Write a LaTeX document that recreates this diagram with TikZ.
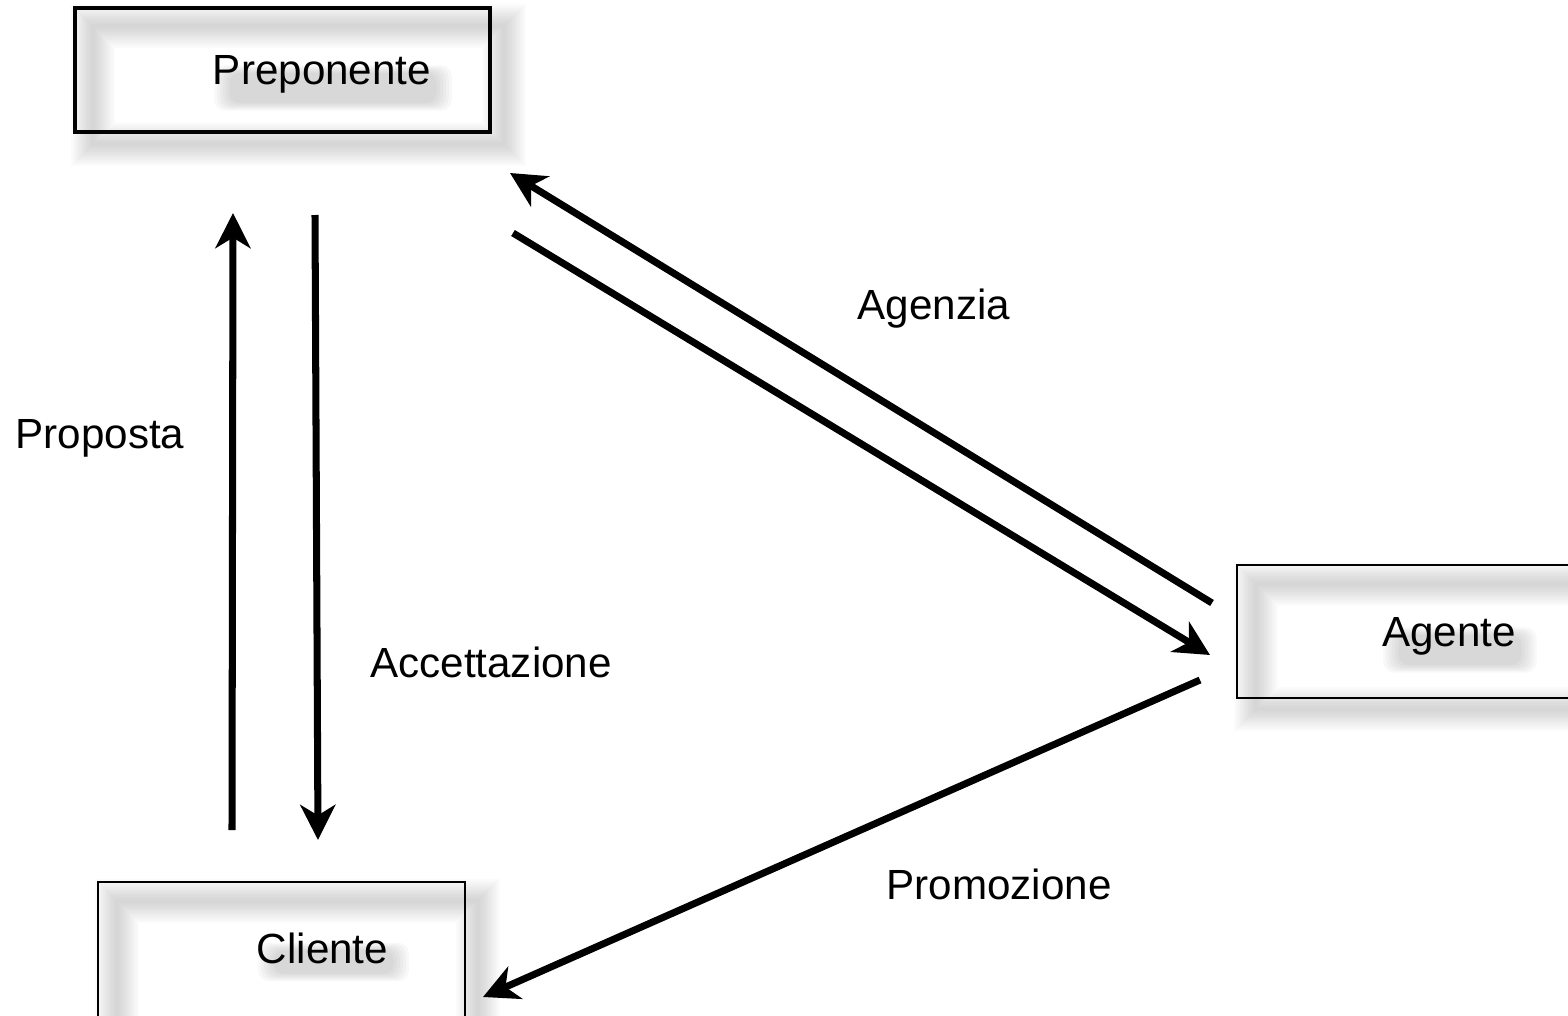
\documentclass[tikz,border=0pt]{standalone}
\usepackage{fontspec}
\setmainfont{Liberation Sans}
\usetikzlibrary{arrows.meta, positioning, calc, backgrounds}

\tikzset{
  box/.style={draw, line width=0.7pt, inner sep=0pt},
  lbl/.style={font=\fontsize{12}{14}\selectfont, inner sep=0pt},
  flow/.style={-{Stealth[length=10pt,width=10pt,inset=3pt]}, line width=2pt},
}

% text with a soft grey shadow
\newcommand{\glowlabel}[3]{%
  \node[lbl] (#1) at (#2) {#3};
  \begin{scope}[on background layer]
    \foreach \s in {-0.10,-0.07,-0.04,-0.01,0.02,0.05}
      \fill[rounded corners=3pt, opacity=0.028]
        ($(#1.south west)+(0.12+\s,-0.12+0.5*\s)$) rectangle ($(#1.north east)+(0.10-\s,-0.16-0.5*\s)$);
  \end{scope}}

% blurred shadow of a box outline
\newcommand{\boxshade}[1]{%
  \begin{scope}[on background layer]
    \foreach \w in {0.04,0.08,...,0.48}
      \draw[line width=\w cm, opacity=0.016]
        ($(#1.north west)+(0.2,-0.2)$) rectangle ($(#1.south east)+(0.12,-0.1)$);
  \end{scope}}

\begin{document}
\begin{tikzpicture}
    \useasboundingbox (0,0) rectangle (15.68,10.15);

    \node[box, line width=1.3pt, minimum width=4.15cm, minimum height=1.24cm] (pre) at (2.825,9.45) {};
    \node[box, minimum width=3.63cm, minimum height=1.33cm] (age) at (14.185,3.835) {};
    \node[box, minimum width=3.67cm, minimum height=1.45cm] (cli) at (2.815,0.605) {};
    \boxshade{pre}
    \boxshade{age}
    \boxshade{cli}

    \glowlabel{pretxt}{3.22,9.41}{Preponente}
    \glowlabel{agetxt}{14.49,3.79}{Agente}
    \glowlabel{clitxt}{3.225,0.67}{Cliente}

    % free ends of the arrows
    \coordinate (p1) at (2.32,1.85);  \coordinate (p2) at (2.33,8.02);
    \coordinate (a1) at (3.15,8.00);  \coordinate (a2) at (3.18,1.75);
    \coordinate (g1) at (12.12,4.12); \coordinate (g2) at (5.10,8.42);
    \coordinate (g3) at (5.13,7.82);  \coordinate (g4) at (12.10,3.60);
    \coordinate (m1) at (12.00,3.35); \coordinate (m2) at (4.83,0.18);

    \draw[flow] (p1) -- (p2);
    \draw[flow] (a1) -- (a2);
    \draw[flow] (g1) -- (g2);
    \draw[flow] (g3) -- (g4);
    \draw[flow] (m1) -- (m2);

    \node[lbl] (proposta) at (1.00,5.77) {Proposta};
    \node[lbl] (accett) at (4.91,3.53) {Accettazione};
    \node[lbl] (agenzia) at (9.34,7.06) {Agenzia};
    \node[lbl] (promo) at (9.99,1.31) {Promozione};
\end{tikzpicture}
\end{document}
